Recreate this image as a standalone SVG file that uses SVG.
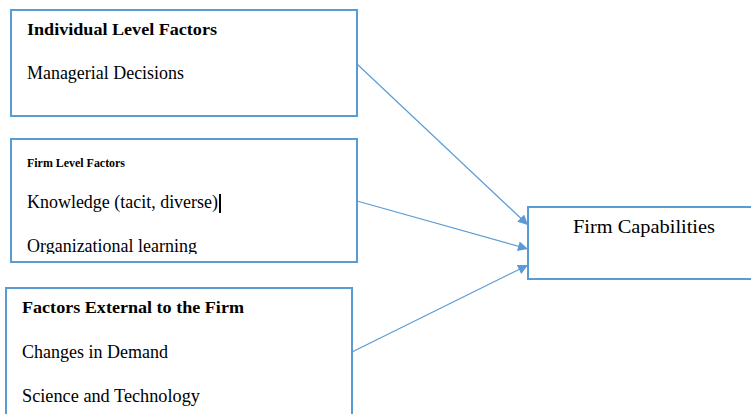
<svg xmlns="http://www.w3.org/2000/svg" width="751" height="414" viewBox="0 0 751 414">
  <style>
    .box { fill: #ffffff; stroke: #5B9BD5; stroke-width: 2; }
    .link { fill: none; stroke: #5B9BD5; stroke-width: 1.2; }
    .t { font-family: "Liberation Serif", "Times New Roman", serif; fill: #000000; }
    .h { font-weight: bold; font-size: 17px; }
    .b { font-size: 18px; }
    .s { font-weight: bold; font-size: 12px; }
  </style>
  <defs>
    <marker id="arrow" viewBox="0 0 10 10" refX="10" refY="5" markerWidth="11" markerHeight="10" markerUnits="userSpaceOnUse" orient="auto">
      <path d="M0,0 L10,5 L0,10 z" fill="#5B9BD5"/>
    </marker>
    <clipPath id="firmClip">
      <rect x="11" y="139" width="346" height="115"/>
    </clipPath>
  </defs>
  <rect width="751" height="414" fill="#ffffff"/>

  <g id="individual">
    <rect class="box" x="11" y="10" width="346" height="106"/>
    <text class="t h" x="27" y="35" textLength="190" lengthAdjust="spacingAndGlyphs">Individual Level Factors</text>
    <text class="t b" x="27" y="79" textLength="157" lengthAdjust="spacingAndGlyphs">Managerial Decisions</text>
  </g>

  <g id="firm-level">
    <rect class="box" x="11" y="139" width="346" height="123"/>
    <g clip-path="url(#firmClip)">
      <text class="t s" x="27" y="167" textLength="98" lengthAdjust="spacingAndGlyphs">Firm Level Factors</text>
      <text class="t b" x="27" y="208" textLength="191" lengthAdjust="spacingAndGlyphs">Knowledge (tacit, diverse)</text>
      <text class="t b" x="27" y="252" textLength="170" lengthAdjust="spacingAndGlyphs">Organizational learning</text>
    </g>
    <!-- text cursor bar -->
    <rect x="219" y="194" width="2" height="19" fill="#000000"/>
  </g>

  <g id="external">
    <rect class="box" x="6" y="288" width="346" height="140"/>
    <text class="t h" x="22" y="313" textLength="222" lengthAdjust="spacingAndGlyphs">Factors External to the Firm</text>
    <text class="t b" x="22" y="358" textLength="146" lengthAdjust="spacingAndGlyphs">Changes in Demand</text>
    <text class="t b" x="22" y="402" textLength="178" lengthAdjust="spacingAndGlyphs">Science and Technology</text>
  </g>

  <g id="capabilities">
    <rect class="box" x="528" y="207" width="240" height="72"/>
    <text class="t b" x="573" y="233" textLength="142" lengthAdjust="spacingAndGlyphs">Firm Capabilities</text>
  </g>

  <g id="connectors">
    <line class="link" x1="357" y1="64" x2="528" y2="225" marker-end="url(#arrow)"/>
    <line class="link" x1="357" y1="201" x2="528" y2="249" marker-end="url(#arrow)"/>
    <line class="link" x1="352" y1="352" x2="528" y2="265" marker-end="url(#arrow)"/>
  </g>
</svg>
